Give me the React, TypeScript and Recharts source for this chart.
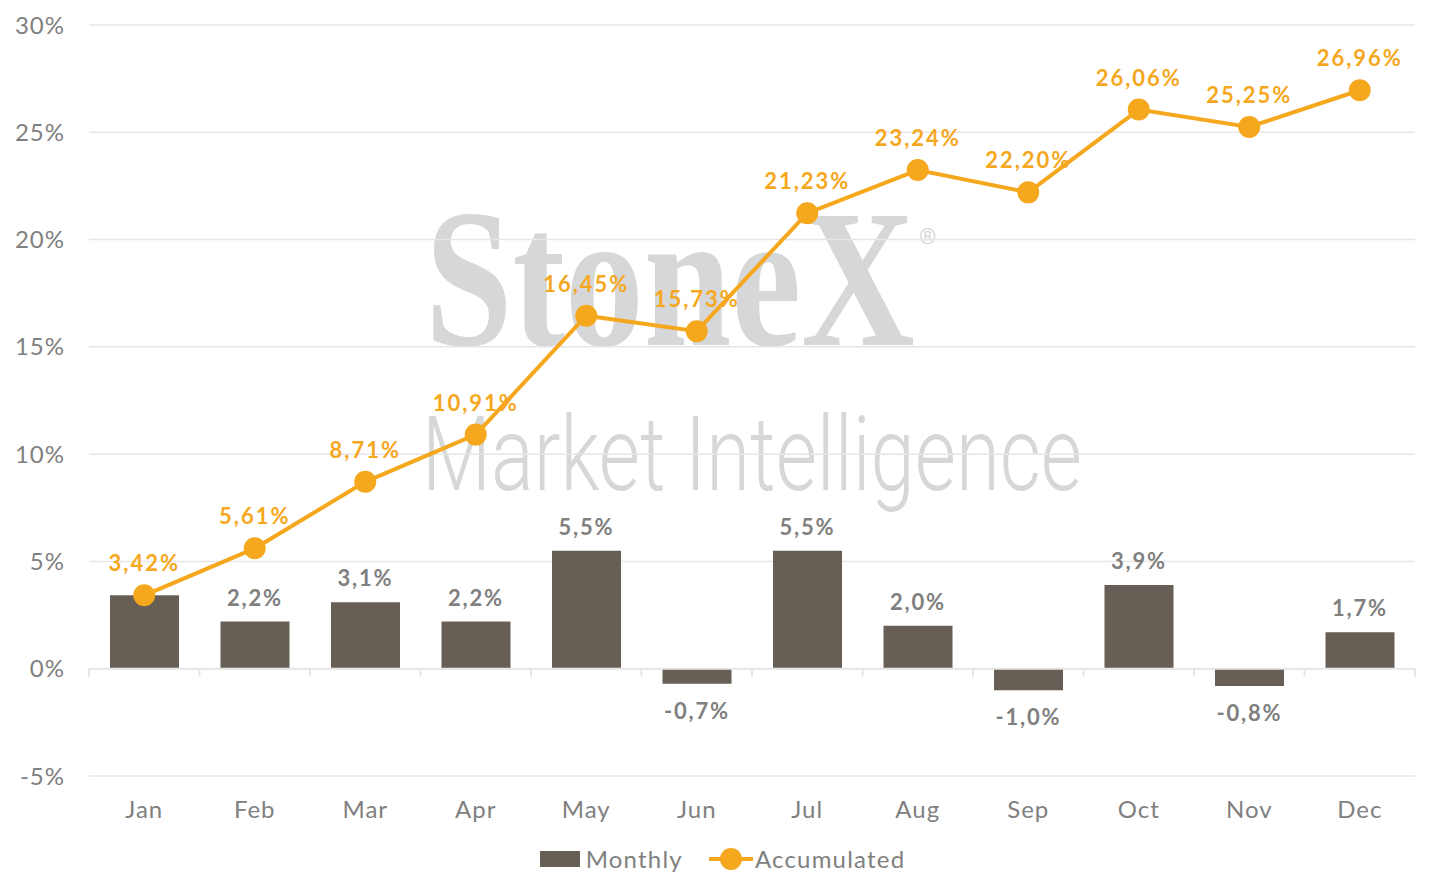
import React from 'react';
import {
  ComposedChart,
  Bar,
  Line,
  XAxis,
  YAxis,
  CartesianGrid,
  Legend,
  LabelList,
  ReferenceLine,
} from 'recharts';

const months = ['Jan', 'Feb', 'Mar', 'Apr', 'May', 'Jun', 'Jul', 'Aug', 'Sep', 'Oct', 'Nov', 'Dec'];
const monthly = [3.42, 2.2, 3.1, 2.2, 5.5, -0.7, 5.5, 2.0, -1.0, 3.9, -0.8, 1.7];
const accumulated = [3.42, 5.61, 8.71, 10.91, 16.45, 15.73, 21.23, 23.24, 22.2, 26.06, 25.25, 26.96];
const yTicks = [-5, 0, 5, 10, 15, 20, 25, 30];

const data = months.map((m, i) => ({ month: m, monthly: monthly[i], accumulated: accumulated[i] }));

const FONT = 'Lato, "Noto Sans", sans-serif';
const BAR = '#675F55';
const ORANGE = '#F5A71E';
const GRAY = '#808080';

const fmt1 = (v: number) => v.toFixed(1).replace('.', ',') + '%';
const fmt2 = (v: number) => v.toFixed(2).replace('.', ',') + '%';

const BarLabel = (props: any) => {
  const { x, y, width, height, value, index } = props;
  if (index === 0) return null;
  const top = Math.min(y, y + height);
  const bottom = Math.max(y, y + height);
  const cx = x + width / 2;
  const ty = value >= 0 ? top - 16 : bottom + 35;
  return (
    <text x={cx} y={ty} textAnchor="middle" fontFamily={FONT} fontSize={22} fontWeight={700} fill={GRAY} letterSpacing={1.8}>
      {fmt1(value)}
    </text>
  );
};

const LineLabel = (props: any) => {
  const { x, y, value } = props;
  return (
    <text x={x} y={y - 24} textAnchor="middle" fontFamily={FONT} fontSize={22} fontWeight={700} fill={ORANGE} letterSpacing={2}>
      {fmt2(value)}
    </text>
  );
};

const ZeroAxis = (props: any) => {
  const { x1, y1, x2, y2 } = props;
  const n = months.length;
  const step = (x2 - x1) / n;
  const ticks = [];
  for (let i = 0; i <= n; i++) {
    const tx = x1 + step * i;
    ticks.push(<line key={i} x1={tx} y1={y1} x2={tx} y2={y1 + 8} stroke="#e6e6e6" strokeWidth={2} />);
  }
  return (
    <g>
      <line x1={x1} y1={y1} x2={x2} y2={y2} stroke="#e6e6e6" strokeWidth={2} />
      {ticks}
    </g>
  );
};

const LegendContent = () => (
  <div
    style={{
      display: 'flex',
      justifyContent: 'center',
      alignItems: 'center',
      fontFamily: FONT,
      fontSize: 24,
      color: GRAY,
      letterSpacing: 1.2,
      paddingTop: 6,
      paddingLeft: 22,
    }}
  >
    <svg width={40} height={16} style={{ marginRight: 6 }}>
      <rect x={0} y={0} width={40} height={16} fill={BAR} />
    </svg>
    <span style={{ marginRight: 26 }}>Monthly</span>
    <svg width={44} height={24} style={{ marginRight: 2 }}>
      <line x1={0} y1={12} x2={44} y2={12} stroke={ORANGE} strokeWidth={4} />
      <circle cx={22} cy={12} r={11} fill={ORANGE} />
    </svg>
    <span>Accumulated</span>
  </div>
);

const Watermark = () => (
  <svg width={1422} height={880} style={{ position: 'absolute', left: 0, top: 0 }}>
    <text
      x={417}
      y={337}
      fontFamily='"Liberation Serif", "DejaVu Serif", serif'
      fontWeight={700}
      fontSize={198}
      fill="#d6d7d9"
      textLength={490}
      lengthAdjust="spacingAndGlyphs"
    >
      StoneX
    </text>
    <text x={911} y={236} fontFamily="Roboto, sans-serif" fontSize={22} fill="#d6d7d9">
      ®
    </text>
    <text
      x={414}
      y={482}
      fontFamily="Roboto, sans-serif"
      fontWeight={300}
      fontSize={104}
      fill="#d6d7d9"
      textLength={660}
      lengthAdjust="spacingAndGlyphs"
    >
      Market Intelligence
    </text>
  </svg>
);

export default function App() {
  return (
    <div style={{ position: 'relative', width: 1422, height: 880 }}>
      <Watermark />
      <div style={{ position: 'absolute', left: 0, top: 0 }}>
        <ComposedChart width={1422} height={880} data={data} margin={{ top: 17, right: 15, left: 0, bottom: 0 }}>
          <CartesianGrid vertical={false} stroke="#e6e6e6" strokeWidth={1.5} />
          <XAxis
            dataKey="month"
            axisLine={false}
            tickLine={false}
            tickMargin={19}
            height={62}
            tick={{ fontFamily: FONT, fontSize: 24, fill: GRAY, letterSpacing: 1 }}
          />
          <YAxis
            domain={[-5, 30]}
            ticks={yTicks}
            width={81}
            axisLine={false}
            tickLine={false}
            tickMargin={18}
            tickFormatter={(v: number) => `${v}%`}
            tick={{ fontFamily: FONT, fontSize: 24, fill: GRAY, letterSpacing: 1 }}
          />
          <ReferenceLine y={0} shape={ZeroAxis} />
          <Bar dataKey="monthly" name="Monthly" fill={BAR} barSize={69} isAnimationActive={false}>
            <LabelList dataKey="monthly" content={BarLabel} />
          </Bar>
          <Line
            dataKey="accumulated"
            name="Accumulated"
            stroke={ORANGE}
            strokeWidth={4}
            dot={{ r: 11, fill: ORANGE, stroke: 'none' }}
            activeDot={false}
            isAnimationActive={false}
          >
            <LabelList dataKey="accumulated" content={LineLabel} />
          </Line>
          <Legend verticalAlign="bottom" height={50} content={LegendContent} />
        </ComposedChart>
      </div>
    </div>
  );
}
